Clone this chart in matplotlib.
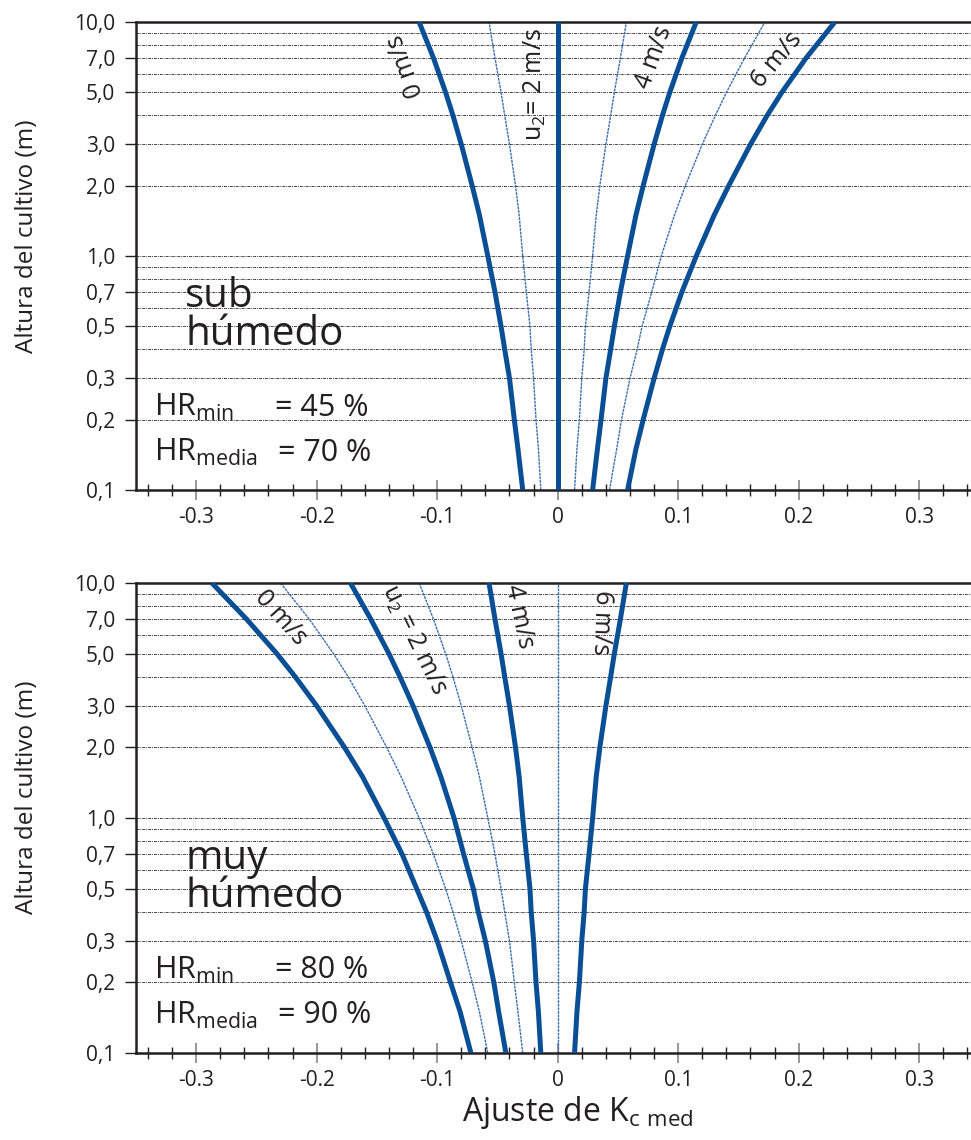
import numpy as np
import matplotlib
matplotlib.use("Agg")
import matplotlib.pyplot as plt
from matplotlib.ticker import FixedLocator, NullFormatter

plt.rcParams['font.family'] = ['Open Sans', 'DejaVu Sans']
plt.rcParams['mathtext.fontset'] = 'custom'
plt.rcParams['mathtext.rm'] = 'Open Sans'
plt.rcParams['mathtext.it'] = 'Open Sans'

# crop heights (m) where the curves were read
heights = [0.1, 0.15, 0.2, 0.3, 0.4, 0.5, 0.7, 1.0, 1.5, 2.0, 3.0, 4.0, 5.0, 7.0, 10.0]

# sub humedo (HRmin 45 %), Kc adjustment per wind speed u2
sub_0ms = [-0.029, -0.033, -0.036, -0.040, -0.044, -0.047, -0.052, -0.058, -0.065, -0.071, -0.080, -0.087, -0.093, -0.103, -0.115]
sub_1ms = [-0.014, -0.016, -0.018, -0.020, -0.022, -0.023, -0.026, -0.029, -0.032, -0.035, -0.040, -0.044, -0.047, -0.052, -0.057]
sub_2ms = [0.0] * 15
sub_3ms = [0.014, 0.016, 0.018, 0.020, 0.022, 0.023, 0.026, 0.029, 0.032, 0.035, 0.040, 0.044, 0.047, 0.052, 0.057]
sub_4ms = [0.029, 0.033, 0.036, 0.040, 0.044, 0.047, 0.052, 0.058, 0.065, 0.071, 0.080, 0.087, 0.093, 0.103, 0.115]
sub_5ms = [0.043, 0.049, 0.053, 0.060, 0.066, 0.070, 0.078, 0.086, 0.097, 0.106, 0.120, 0.131, 0.140, 0.155, 0.172]
sub_6ms = [0.058, 0.065, 0.071, 0.080, 0.087, 0.093, 0.103, 0.115, 0.130, 0.142, 0.160, 0.174, 0.186, 0.206, 0.230]

# muy humedo (HRmin 80 %)
muy_0ms = [-0.072, -0.081, -0.089, -0.100, -0.109, -0.117, -0.129, -0.144, -0.162, -0.177, -0.200, -0.218, -0.233, -0.258, -0.287]
muy_1ms = [-0.058, -0.065, -0.071, -0.080, -0.087, -0.093, -0.103, -0.115, -0.130, -0.142, -0.160, -0.174, -0.186, -0.206, -0.230]
muy_2ms = [-0.043, -0.049, -0.053, -0.060, -0.066, -0.070, -0.078, -0.086, -0.097, -0.106, -0.120, -0.131, -0.140, -0.155, -0.172]
muy_3ms = [-0.029, -0.033, -0.036, -0.040, -0.044, -0.047, -0.052, -0.058, -0.065, -0.071, -0.080, -0.087, -0.093, -0.103, -0.115]
muy_4ms = [-0.014, -0.016, -0.018, -0.020, -0.022, -0.023, -0.026, -0.029, -0.032, -0.035, -0.040, -0.044, -0.047, -0.052, -0.057]
muy_5ms = [0.0] * 15
muy_6ms = [0.014, 0.016, 0.018, 0.020, 0.022, 0.023, 0.026, 0.029, 0.032, 0.035, 0.040, 0.044, 0.047, 0.052, 0.057]

ytick_vals = [10, 7, 5, 3, 2, 1, 0.7, 0.5, 0.3, 0.2, 0.1]
ytick_labels = ['10,0', '7,0', '5,0', '3,0', '2,0', '1,0', '0,7', '0,5', '0,3', '0,2', '0,1']
xtick_vals = [-0.3, -0.2, -0.1, 0, 0.1, 0.2, 0.3]
xtick_labels = ['-0.3', '-0.2', '-0.1', '0', '0.1', '0.2', '0.3']

BLUE = '#0a4f96'
THIN = '#3d6fae'
DARK = '#231f20'


def setup_axes(ax):
    ax.set_yscale('log')
    ax.set_ylim(0.1, 10)
    ax.set_xlim(-0.35, 0.343)
    grid_h = [m * 10.0 ** e for e in (-1, 0) for m in range(1, 10)]
    for g in grid_h[1:]:
        ax.axhline(g, color='#444444', lw=0.7, ls=(0, (3, 1, 1, 1)), zorder=1)
    ax.spines['right'].set_visible(False)
    for s in ['left', 'bottom', 'top']:
        ax.spines[s].set_linewidth(1.8)
        ax.spines[s].set_color(DARK)
    ax.yaxis.set_major_locator(FixedLocator(ytick_vals))
    ax.yaxis.set_minor_locator(FixedLocator([]))
    ax.yaxis.set_minor_formatter(NullFormatter())
    ax.set_yticklabels(ytick_labels)
    ax.tick_params(axis='y', direction='out', length=8, width=1, color=DARK,
                   labelsize=15, labelcolor=DARK, pad=7)
    ax.set_xticks(xtick_vals)
    ax.set_xticklabels(xtick_labels)
    ax.xaxis.set_minor_locator(FixedLocator(np.round(np.arange(-0.34, 0.345, 0.02), 2)))
    ax.tick_params(axis='x', which='major', direction='inout', length=15, width=1.2,
                   color='#888888', labelsize=15, labelcolor=DARK, pad=5)
    ax.tick_params(axis='x', which='minor', direction='inout', length=8, width=1,
                   color=DARK)


def draw_curves(ax, thick, thin):
    for xs in thin:
        ax.plot(xs, heights, color=THIN, lw=1.0, ls=(0, (2, 0.6)), zorder=2)
    for xs in thick:
        ax.plot(xs, heights, color=BLUE, lw=3.6, zorder=3, solid_capstyle='butt')


def humidity_text(ax, word, hr_min, hr_media):
    kw = dict(transform=ax.transAxes, color=DARK, va='center')
    ax.text(0.059, 0.413, word, fontsize=29, **kw)
    ax.text(0.059, 0.332, 'húmedo', fontsize=29, **kw)
    ax.text(0.022, 0.176, r'HR$_{\rm min}$', fontsize=22, **kw)
    ax.text(0.166, 0.176, '= ' + hr_min + ' %', fontsize=22, **kw)
    ax.text(0.022, 0.080, r'HR$_{\rm media}$', fontsize=22, **kw)
    ax.text(0.170, 0.080, '= ' + hr_media + ' %', fontsize=22, **kw)


fig = plt.figure(figsize=(9.71, 11.4), dpi=100)
ax1 = fig.add_axes([0.140, 0.5702, 0.860, 0.4105])
ax2 = fig.add_axes([0.140, 0.0763, 0.860, 0.4123])

lab = dict(fontsize=18, color=DARK, ha='center', va='center', rotation_mode='anchor')

# top panel
setup_axes(ax1)
draw_curves(ax1, [sub_0ms, sub_2ms, sub_4ms, sub_6ms], [sub_1ms, sub_3ms, sub_5ms])
ax1.text(-0.126, 6.5, '0 m/s', rotation=110, **lab)
ax1.text(-0.019, 5.4, r'u$_2$= 2 m/s', rotation=90, **lab)
ax1.text(0.080, 7.1, '4 m/s', rotation=70, **lab)
ax1.text(0.182, 6.9, '6 m/s', rotation=50, **lab)
humidity_text(ax1, 'sub', '45', '70')

# bottom panel
setup_axes(ax2)
draw_curves(ax2, [muy_0ms, muy_2ms, muy_4ms, muy_6ms], [muy_1ms, muy_3ms, muy_5ms])
ax2.text(-0.230, 7.1, '0 m/s', rotation=-48, **lab)
ax2.text(-0.119, 5.7, r'u$_2$ = 2 m/s', rotation=-64, **lab)
ax2.text(-0.032, 7.2, '4 m/s', rotation=-78, **lab)
ax2.text(0.036, 6.8, '6 m/s', rotation=-92, **lab)
humidity_text(ax2, 'muy', '80', '90')

fig.text(0.028, 0.793, 'Altura del cultivo (m)', rotation=90, fontsize=17.5, color=DARK,
         ha='center', va='center')
fig.text(0.028, 0.301, 'Altura del cultivo (m)', rotation=90, fontsize=17.5, color=DARK,
         ha='center', va='center')
fig.text(0.595, 0.024, r'Ajuste de K$_{\rm c\ med}$', fontsize=23, color=DARK,
         ha='center', va='center')

fig.savefig('out.png', dpi=100)
